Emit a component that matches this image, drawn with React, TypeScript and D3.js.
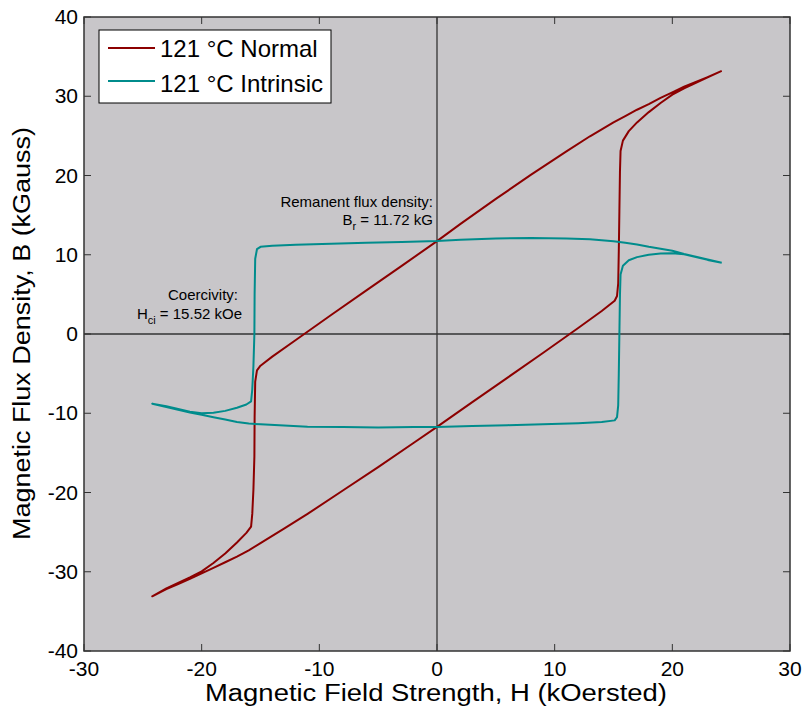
import React from "react";
import * as d3 from "d3";

const xTicks = [-30, -20, -10, 0, 10, 20, 30];
const yTicks = [-40, -30, -20, -10, 0, 10, 20, 30, 40];

const seriesNames = ["121 °C Normal", "121 °C Intrinsic"];
const seriesColors = ["#8c0000", "#008c8c"];

// Normal curve: [H (kOe), B (kG)]
const normalLoop: [number, number][] = [
  [24.2, 33.2], [23, 32.4], [22, 31.8], [21, 31.2], [20, 30.5], [19, 29.8], [18, 29.0],
  [17, 28.3], [16, 27.5], [15, 26.7], [13, 24.95], [11, 23.05], [8, 20.1], [5, 17.05],
  [2, 13.9], [0, 11.72], [-3, 8.6], [-6, 5.5], [-9, 2.4], [-12, -0.75], [-14, -2.85],
  [-15.0, -4.0], [-15.3, -4.6], [-15.45, -6.0], [-15.5, -10.5], [-15.52, -15.5],
  [-15.6, -19.6], [-15.7, -22.7], [-15.8, -24.3], [-16.2, -25.1], [-17, -26.3],
  [-18, -27.7], [-19, -28.9], [-20, -29.95], [-21, -30.7], [-22, -31.4], [-23, -32.1],
  [-24.2, -33.1],
  [-23, -32.2], [-22, -31.55], [-21, -30.9], [-20, -30.2], [-19, -29.5], [-18, -28.8],
  [-17, -28.1], [-16, -27.3], [-15, -26.4], [-13, -24.55], [-11, -22.7], [-8, -19.75],
  [-5, -16.8], [-2, -13.75], [0, -11.72], [3, -8.6], [6, -5.5], [9, -2.4], [12, 0.75],
  [14, 2.9], [15.1, 4.2], [15.3, 4.8], [15.4, 6.4], [15.45, 10.45], [15.5, 15.5],
  [15.55, 20.55], [15.6, 23.1], [15.8, 24.4], [16.3, 25.6], [17, 26.7], [18, 28.0],
  [19, 29.15], [20, 30.2], [21, 31.0], [22, 31.7], [23, 32.4], [24.2, 33.2],
];

// Intrinsic curve: [H (kOe), J (kG)]
const intrinsicLoop: [number, number][] = [
  [24.2, 9.0], [23, 9.4], [22, 9.75], [21, 10.1], [20, 10.5], [19, 10.75], [18, 11.0],
  [17, 11.3], [16, 11.5], [15, 11.7], [13, 11.95], [11, 12.05], [8, 12.1], [5, 12.05],
  [2, 11.9], [0, 11.72], [-3, 11.6], [-6, 11.5], [-9, 11.4], [-12, 11.25], [-14, 11.15],
  [-15.0, 11.0], [-15.3, 10.7], [-15.45, 9.5], [-15.5, 5.0], [-15.52, 0], [-15.6, -4.0],
  [-15.7, -7.0], [-15.8, -8.5], [-16.2, -8.9], [-17, -9.3], [-18, -9.7], [-19, -9.95],
  [-20, -10.0], [-21, -9.8], [-22, -9.45], [-23, -9.1], [-24.2, -8.8],
  [-23, -9.2], [-22, -9.55], [-21, -9.9], [-20, -10.2], [-19, -10.5], [-18, -10.8],
  [-17, -11.1], [-16, -11.3], [-15, -11.4], [-13, -11.55], [-11, -11.7], [-8, -11.75],
  [-5, -11.8], [-2, -11.75], [0, -11.72], [3, -11.6], [6, -11.5], [9, -11.4],
  [12, -11.25], [14, -11.1], [15.1, -10.9], [15.3, -10.5], [15.4, -9.0], [15.45, -5.0],
  [15.5, 0], [15.55, 5.0], [15.6, 7.5], [15.8, 8.6], [16.3, 9.3], [17, 9.7], [18, 10.0],
  [19, 10.15], [20, 10.2], [21, 10.05], [22, 9.7], [23, 9.35], [24.2, 9.0],
];

const W = 804;
const H = 715;
const plot = { left: 84, right: 790, top: 17, bottom: 651 };
const font = "Arial, 'Liberation Sans', Helvetica, sans-serif";

export default function App() {
  const x = d3.scaleLinear().domain([-30, 30]).range([plot.left, plot.right]);
  const y = d3.scaleLinear().domain([-40, 40]).range([plot.bottom, plot.top]);
  const line = d3
    .line<[number, number]>()
    .x((d) => x(d[0]))
    .y((d) => y(d[1]));
  const tickLen = 7;
  const axisColor = "#333";

  return (
    <svg
      width={W}
      height={H}
      style={{ position: "absolute", left: 0, top: 0, background: "#fff" }}
      fontFamily={font}
    >
      <rect
        x={plot.left}
        y={plot.top}
        width={plot.right - plot.left}
        height={plot.bottom - plot.top}
        fill="#c8c6c9"
      />
      {/* zero lines */}
      <line x1={x(0)} x2={x(0)} y1={plot.top} y2={plot.bottom} stroke="#333" strokeWidth={1.3} />
      <line x1={plot.left} x2={plot.right} y1={y(0)} y2={y(0)} stroke="#333" strokeWidth={1.3} />

      {/* curves */}
      <path
        d={line(normalLoop) || ""}
        fill="none"
        stroke={seriesColors[0]}
        strokeWidth={2}
        strokeLinejoin="round"
      />
      <path
        d={line(intrinsicLoop) || ""}
        fill="none"
        stroke={seriesColors[1]}
        strokeWidth={2}
        strokeLinejoin="round"
      />

      {/* ticks */}
      {xTicks.map((t) => (
        <g key={"xt" + t}>
          <line x1={x(t)} x2={x(t)} y1={plot.bottom} y2={plot.bottom - tickLen} stroke={axisColor} strokeWidth={1} />
          <line x1={x(t)} x2={x(t)} y1={plot.top} y2={plot.top + tickLen} stroke={axisColor} strokeWidth={1} />
          <text x={x(t)} y={676} textAnchor="middle" fontSize={21} fill="#000">
            {t}
          </text>
        </g>
      ))}
      {yTicks.map((t) => (
        <g key={"yt" + t}>
          <line x1={plot.left} x2={plot.left + tickLen} y1={y(t)} y2={y(t)} stroke={axisColor} strokeWidth={1} />
          <line x1={plot.right} x2={plot.right - tickLen} y1={y(t)} y2={y(t)} stroke={axisColor} strokeWidth={1} />
          <text x={78} y={y(t)} dy="0.34em" textAnchor="end" fontSize={21} fill="#000">
            {t}
          </text>
        </g>
      ))}

      {/* frame */}
      <rect
        x={plot.left}
        y={plot.top}
        width={plot.right - plot.left}
        height={plot.bottom - plot.top}
        fill="none"
        stroke={axisColor}
        strokeWidth={1.5}
      />

      {/* axis labels */}
      <text
        x={436}
        y={701}
        textAnchor="middle"
        fontSize={23}
        textLength={462}
        lengthAdjust="spacingAndGlyphs"
      >
        Magnetic Field Strength, H (kOersted)
      </text>
      <text
        transform={`translate(30,${333.5}) rotate(-90)`}
        textAnchor="middle"
        fontSize={23}
        textLength={413}
        lengthAdjust="spacingAndGlyphs"
      >
        Magnetic Flux Density, B (kGauss)
      </text>

      {/* annotations */}
      <text x={433} y={207} textAnchor="end" fontSize={15}>
        Remanent flux density:
      </text>
      <text x={433} y={225} textAnchor="end" fontSize={15}>
        <tspan>B</tspan>
        <tspan dy={5} fontSize={11}>r</tspan>
        <tspan dy={-5}> = 11.72 kG</tspan>
      </text>
      <text x={238} y={300} textAnchor="end" fontSize={15}>
        Coercivity:
      </text>
      <text x={242} y={319} textAnchor="end" fontSize={15}>
        <tspan>H</tspan>
        <tspan dy={5} fontSize={11}>ci</tspan>
        <tspan dy={-5}> = 15.52 kOe</tspan>
      </text>

      {/* legend */}
      <rect x={99} y={30} width={232} height={73} fill="#fff" stroke="#000" strokeWidth={1} />
      {seriesNames.map((name, i) => (
        <g key={name}>
          <line
            x1={108}
            x2={155}
            y1={48 + i * 33}
            y2={48 + i * 33}
            stroke={seriesColors[i]}
            strokeWidth={2}
          />
          <text x={160} y={57 + i * 35} fontSize={24} fill="#000">
            {name}
          </text>
        </g>
      ))}
    </svg>
  );
}
